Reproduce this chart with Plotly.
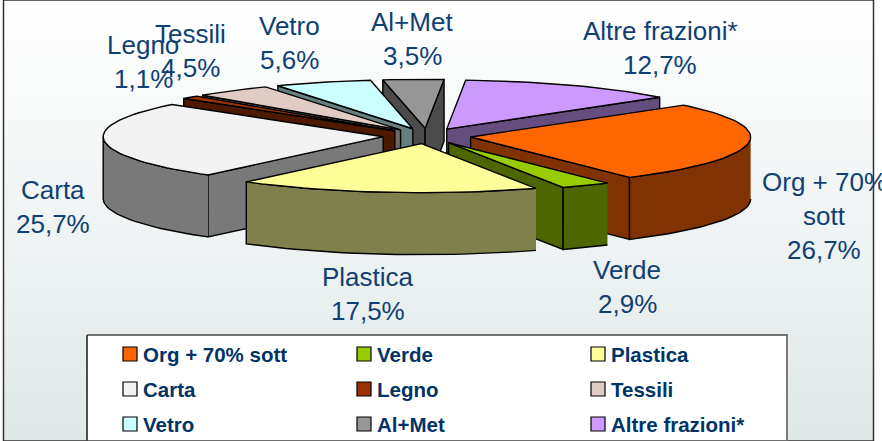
import numpy as np
import plotly.graph_objects as go

# ---- data ----
categories = ["Org + 70% sott", "Verde", "Plastica", "Carta", "Legno", "Tessili", "Vetro", "Al+Met", "Altre frazioni*"]
values = [26.7, 2.9, 17.5, 25.7, 1.1, 4.5, 5.6, 3.5, 12.7]
value_labels = ["26,7%", "2,9%", "17,5%", "25,7%", "1,1%", "4,5%", "5,6%", "3,5%", "12,7%"]
top_colors = ["#FF6600", "#99CC00", "#FFFF99", "#F2F2F2", "#993300", "#E0CCC4", "#CCFFFF", "#969696", "#CC99FF"]
side_colors = ["#803300", "#4D6600", "#80804D", "#797979", "#4D1A00", "#706662", "#668080", "#4B4B4B", "#664D80"]
label_lines = [["Org + 70%", "sott"], ["Verde"], ["Plastica"], ["Carta"], ["Legno"], ["Tessili"], ["Vetro"], ["Al+Met"], ["Altre frazioni*"]]

# ---- layout constants (pixels of the 882x441 page) ----
W, H = 882, 441
CX, CY, RX, RY = 427, 136, 280, 49
EXPLODE = 44
DEPTH = 62
START_DEG = 49.5
TEXT = "#0F3F73"
LEGEND_TEXT = "#003366"
FONT = "Liberation Sans"
label_pos = [(824, 182), (627, 270), (368, 277), (53, 190), (143, 45), (190, 34), (289, 26), (412, 22), (660, 31)]
label_step = 34
legend_cols = [130, 364, 598]
legend_rows = [354, 389, 424]

fig = go.Figure()


def py(y):
    return H - y


def poly(xs, ys, fill, width=1.4):
    fig.add_trace(go.Scatter(x=xs, y=[py(v) for v in ys], mode="lines", fill="toself", fillcolor=fill,
                             line=dict(color="black", width=width), hoverinfo="skip", showlegend=False))


# background panel with vertical gradient
fig.add_trace(go.Scatter(x=[3.5, 873.5, 873.5, 3.5, 3.5], y=[0, 0, H, H, 0], mode="lines", fill="toself",
                         line=dict(color="#333333", width=1.5), hoverinfo="skip", showlegend=False,
                         fillgradient=dict(type="vertical",
                                           colorscale=[[0, "#DFE7E7"], [0.25, "#E8EEEE"], [1, "#FFFFFF"]])))

# slices
total = sum(values)
fractions = np.array(values) / total * 360
ends = START_DEG + np.cumsum(fractions)
starts = ends - fractions


def rim(a_deg, b_deg):
    n = max(2, int(abs(b_deg - a_deg) / 2) + 2)
    return np.radians(np.linspace(a_deg, b_deg, n))


order = sorted(range(len(values)), key=lambda i: -np.cos(np.radians((starts[i] + ends[i]) / 2)))
for i in order:
    a, b = starts[i], ends[i]
    mid = np.radians((a + b) / 2)
    ax = CX + EXPLODE * np.sin(mid)
    ay = CY - EXPLODE * RY / RX * np.cos(mid)
    ex = lambda t: ax + RX * np.sin(t)
    ey = lambda t: ay - RY * np.cos(t)
    ra, rb = np.radians(a), np.radians(b)
    # radial walls that face the viewer
    if np.sin(ra) < 0:
        poly([ax, ex(ra), ex(ra), ax, ax], [ay, ey(ra), ey(ra) + DEPTH, ay + DEPTH, ay], side_colors[i])
    if np.sin(rb) > 0:
        poly([ax, ex(rb), ex(rb), ax, ax], [ay, ey(rb), ey(rb) + DEPTH, ay + DEPTH, ay], side_colors[i])
    # outer wall: only the part of the rim that faces the viewer
    lo, hi = max(a, 90), min(b, 270)
    if hi > lo:
        t = rim(lo, hi)
        poly(list(ex(t)) + list(ex(t[::-1])), list(ey(t)) + list(ey(t[::-1]) + DEPTH), side_colors[i])
    # top
    t = rim(a, b)
    poly([ax] + list(ex(t)) + [ax], [ay] + list(ey(t)) + [ay], top_colors[i])

annotations = []
for i, (x, y) in enumerate(label_pos):
    lines = label_lines[i] + [value_labels[i]]
    for k, s in enumerate(lines):
        annotations.append(dict(x=x, y=py(y + k * label_step), xref="x", yref="y", text=s, showarrow=False,
                                xanchor="center", yanchor="middle",
                                font=dict(family=FONT, size=26, color=TEXT)))

# legend box: white panel, grey top and right edges, thin dark left edge
fig.add_trace(go.Scatter(x=[87, 787, 787], y=[py(H), py(H), py(335)], mode="none", hoverinfo="skip", showlegend=False))
fig.add_trace(go.Scatter(x=[87, 787, 787, 87, 87], y=[py(335), py(335), py(H), py(H), py(335)], mode="lines",
                         fill="toself", fillcolor="white", line=dict(color="#6E6E6E", width=1.8),
                         hoverinfo="skip", showlegend=False))
fig.add_trace(go.Scatter(x=[87, 87], y=[py(335), py(H)], mode="lines", line=dict(color="#222222", width=1),
                         hoverinfo="skip", showlegend=False))
for i, name in enumerate(categories):
    c, r = i % 3, i // 3
    fig.add_trace(go.Scatter(x=[legend_cols[c]], y=[py(legend_rows[r])], mode="markers", hoverinfo="skip",
                             showlegend=False,
                             marker=dict(symbol="square", size=14, color=top_colors[i],
                                         line=dict(color="black", width=1.2))))
    annotations.append(dict(x=legend_cols[c] + 11, y=py(legend_rows[r]), xref="x", yref="y", text=name,
                            showarrow=False, xanchor="left", yanchor="middle",
                            font=dict(family=FONT, size=20.5, color=LEGEND_TEXT, weight="bold")))

fig.update_layout(width=W, height=H, margin=dict(l=0, r=0, t=0, b=0), paper_bgcolor="white",
                  plot_bgcolor="rgba(0,0,0,0)", showlegend=False, annotations=annotations,
                  xaxis=dict(range=[0, W], visible=False, fixedrange=True),
                  yaxis=dict(range=[0, H], visible=False, fixedrange=True))
fig.write_html("out.html", config=dict(displayModeBar=False),
               post_script="document.body.style.margin='0';document.documentElement.style.overflow='hidden';")
